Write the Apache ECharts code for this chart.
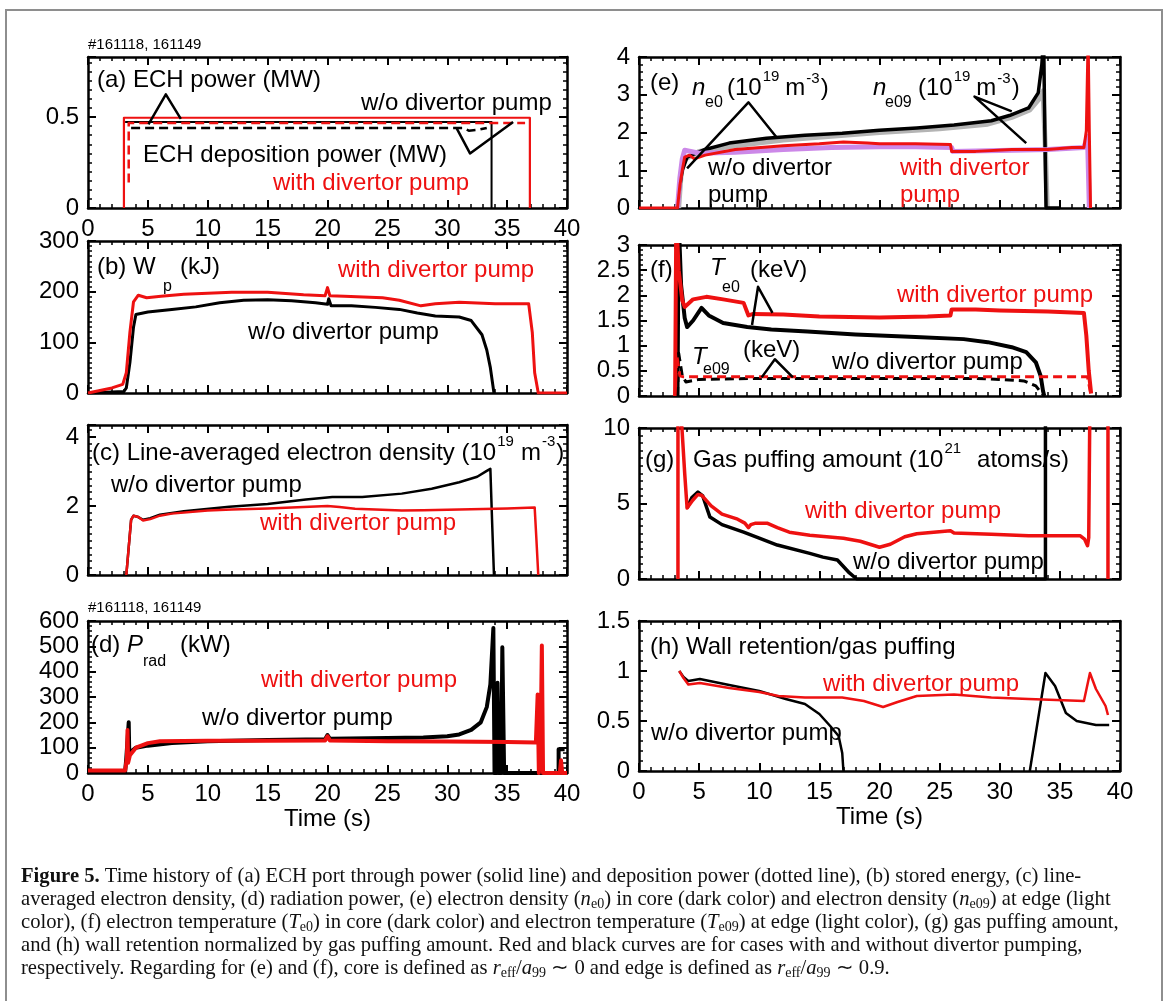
<!DOCTYPE html>
<html><head><meta charset="utf-8">
<script src="https://cdn.jsdelivr.net/npm/echarts@6/dist/echarts.min.js"></script>
<style>html,body{margin:0;padding:0;background:#fff}#c{width:1165px;height:1001px}</style>
</head><body><div id="c"></div>
<script>
// ---------------- DATA (time s, value) ----------------
// (a) ECH power (MW)
const aRedSolid   = [[3.0,0],[3.0,0.496],[36.9,0.496],[36.9,0]];
const aBlackSolid = [[3.1,0.473],[33.7,0.473],[33.7,0]];
const aRedDashed  = [[3.4,0.14],[3.4,0.467],[36.5,0.467]];
const aBlackDashed= [[3.6,0.44],[31.3,0.44],[31.8,0.425],[32.6,0.43],[33.3,0.44]];
const aPointer1   = [[5.05,0.46],[6.5,0.625],[7.75,0.49]];
const aPointer2   = [[30.8,0.436],[31.9,0.30],[35.5,0.473]];
// (b) Wp (kJ)
const bRed = [[0,0],[1,5],[2,10],[2.9,17],[3.2,40],[3.5,120],[3.8,180],[4.2,193],[4.9,188],[6.1,191],[8,195],[10,197],[12,199],[15,199],[18,194],[19.8,192],[20.0,208],[20.2,192],[21.4,191],[24.6,188],[26,183],[27.8,172],[29,176],[31,179],[34,176],[36.8,176],[37.1,120],[37.3,40],[37.6,0],[40,0]];
const bBlack = [[0,0],[3.0,3],[3.2,10],[3.5,60],[3.8,130],[4.0,155],[5,160],[7,165],[9,170],[11,178],[13,183],[15,184],[17,182],[19,178],[20,175],[20.1,186],[20.3,172],[22,172],[24,169],[26,165],[27.5,158],[29,152],[31,150],[32,143],[32.9,115],[33.3,85],[33.6,50],[33.9,0]];
// (c) line-averaged density
const cBlack = [[3.2,0],[3.4,0.8],[3.6,1.6],[3.8,1.72],[4.2,1.68],[4.6,1.6],[5.2,1.65],[6,1.75],[8,1.85],[11.8,1.98],[15,2.06],[18.2,2.19],[20.4,2.26],[22.9,2.26],[26.2,2.36],[28.7,2.5],[31,2.69],[32.5,2.85],[33.3,3.02],[33.6,3.08],[33.75,1.5],[33.9,0]];
const cRed = [[3.2,0],[3.4,0.8],[3.6,1.6],[3.8,1.72],[4.2,1.68],[4.6,1.58],[5.2,1.62],[6,1.72],[7,1.78],[10,1.87],[12,1.9],[15,1.93],[18,1.97],[20,2.0],[21,1.97],[22.3,1.92],[24,1.9],[26.2,1.87],[28,1.88],[31,1.9],[35,1.93],[37.3,1.96],[37.45,1.0],[37.6,0]];
// (d) Prad (kW)
const dBlack = [[0,5],[3.1,5],[3.2,60],[3.4,200],[3.45,70],[3.6,85],[4,100],[5,108],[7,118],[10,125],[15,130],[19.8,133],[20,150],[20.2,135],[25,138],[28,140],[30,145],[31,152],[32,170],[32.8,200],[33.3,260],[33.6,350],[33.85,572],[33.95,0],[34.15,0],[34.2,356],[34.3,0],[34.5,0],[34.6,496],[34.75,0],[39.3,0],[39.3,94],[39.8,94]];
const dRed = [[0,10],[3.1,10],[3.25,60],[3.3,170],[3.35,40],[3.5,70],[4,100],[5,118],[6,125],[10,127],[15,127],[19.8,128],[20,145],[20.2,128],[25,125],[30,124],[35,122],[37.4,120],[37.55,310],[37.65,0],[37.8,120],[37.9,503],[38.0,0],[39.4,0],[39.5,50],[39.6,0],[40,0]];
// (e) ne0 / ne09
const eGrey   = [[3.3,0],[3.5,0.9],[3.8,1.3],[4.5,1.4],[5,1.5],[8,1.65],[12,1.8],[16,1.9],[20,2.0],[25,2.1],[29,2.22],[31,2.4],[32.5,2.6],[33.3,2.9],[33.6,3.1],[33.8,1.5],[33.95,0]];
const eBlack  = [[3.2,0],[3.4,0.6],[3.6,1.0],[4.0,1.35],[4.5,1.42],[5.5,1.55],[7.5,1.72],[10.6,1.85],[13.8,1.93],[16.9,1.98],[20,2.06],[23.1,2.12],[26.2,2.2],[29.3,2.31],[30.8,2.45],[32.4,2.65],[33.2,3.05],[33.5,3.8],[33.65,4.5],[33.75,2],[33.85,0],[35,0]];
const eViolet = [[3.2,0],[3.4,0.8],[3.6,1.3],[3.8,1.53],[4.3,1.5],[5,1.45],[8,1.48],[12,1.55],[16,1.6],[20,1.62],[23,1.62],[26,1.6],[26.1,1.5],[30,1.52],[34,1.55],[37,1.6],[37.3,1.9],[37.45,0]];
const eRed    = [[0,0],[3.2,0],[3.4,0.6],[3.6,1.0],[3.8,1.35],[4.2,1.4],[4.6,1.3],[5.5,1.4],[8,1.55],[12,1.65],[15,1.7],[17,1.75],[19,1.72],[20,1.7],[23,1.7],[25.9,1.68],[26.0,1.5],[28,1.5],[31,1.55],[34,1.55],[36,1.6],[37,1.6],[37.2,2.05],[37.35,4.5],[37.45,2],[37.55,0]];
const ePointer1 = [[4.0,1.05],[9.1,2.8],[11.5,1.85]];
const ePointer2 = [[31.0,2.56],[27.9,2.95],[32.2,1.72]];
// (f) Te0 / Te09 (keV)
const fRed  = [[3.0,0],[3.1,3.5],[3.3,2.5],[3.6,1.9],[3.8,1.77],[4.5,1.92],[5.6,1.97],[7,1.92],[8.7,1.85],[9.1,1.6],[9.5,1.63],[12,1.62],[15,1.58],[20,1.56],[24,1.58],[25.9,1.6],[26.0,1.72],[28,1.72],[30,1.7],[34,1.68],[37.0,1.65],[37.2,1.2],[37.4,0.5],[37.6,0.05]];
const fBlack= [[3.2,0],[3.3,3.5],[3.5,2.2],[3.8,1.55],[4.0,1.37],[4.5,1.5],[5.2,1.75],[5.8,1.6],[7,1.45],[9,1.37],[11,1.32],[14,1.28],[18,1.22],[20,1.2],[23,1.17],[27,1.13],[29,1.07],[31,0.97],[32.2,0.87],[33.0,0.67],[33.4,0.4],[33.6,0.1],[33.7,0]];
const fRedEdge   = [[3.0,0],[3.15,0.8],[3.4,0.4],[3.7,0.38],[37.3,0.38],[37.6,0]];
const fBlackEdge = [[3.2,0],[3.3,0.85],[3.6,0.4],[3.9,0.28],[5,0.33],[10,0.35],[28,0.35],[30,0.33],[32,0.3],[33,0.2],[33.5,0.05],[33.7,0]];
const fPointer1 = [[9.4,1.41],[9.9,2.17],[11.1,1.65]];
const fPointer2 = [[10.2,0.37],[11.3,0.73],[12.8,0.37]];
// (g) gas puffing (1e21 atoms/s)
const gRed = [[3.24,0],[3.24,12],[3.57,10],[3.8,7],[4.0,4.7],[4.45,5.2],[4.9,5.6],[5.2,5.55],[6.0,4.84],[6.9,4.3],[8.2,3.96],[8.8,3.7],[9.1,3.4],[9.3,3.6],[9.7,3.7],[10.65,3.7],[11.5,3.4],[12.5,3.1],[14.2,2.9],[17.0,2.7],[18.4,2.5],[20,2.1],[20.9,2.3],[22.1,2.8],[23.1,3.0],[25.9,3.2],[26.2,3.05],[29.3,2.97],[32.4,2.86],[36.7,2.86],[37.05,2.64],[37.3,2.2],[37.4,2.75],[37.5,12],[39.0,12],[39.0,0]];
const gBlack = [[4.0,4.7],[4.4,5.4],[4.9,5.75],[5.3,5.5],[5.9,4.1],[6.9,3.6],[8.7,3.1],[10.0,2.7],[11.5,2.25],[14.2,1.7],[15.3,1.45],[16.5,1.26],[17.5,0.4],[18.1,0],[33.8,0],[33.8,12]];
// (h) wall retention / gas puffing
const hRed = [[3.35,1.0],[3.7,0.93],[4.1,0.865],[5.06,0.88],[7.5,0.83],[10,0.79],[11.6,0.75],[13.8,0.735],[16.9,0.735],[18.7,0.70],[20.3,0.64],[21.5,0.69],[23.1,0.75],[26.2,0.765],[29.3,0.735],[32.4,0.72],[37.0,0.70],[37.5,0.98],[38.0,0.82],[38.8,0.65],[39.0,0.56]];
const hBlack = [[3.35,1.0],[3.7,0.94],[4.1,0.90],[5.06,0.92],[7.5,0.86],[10.0,0.80],[12.2,0.72],[13.8,0.67],[15.0,0.57],[15.9,0.45],[16.6,0.35],[16.9,0.18],[17.0,0]];
const hBlackLate = [[32.5,0],[33.8,0.98],[33.9,0.99],[34.6,0.85],[35.5,0.58],[36.4,0.5],[38.0,0.46],[39.1,0.46]];

// axis settings per panel
const xTicks = {min:0, max:40, interval:5};
const yRanges = [
  {max:0.83, interval:0.5, split:10},
  {max:300, interval:100, split:10},
  {max:4.35, interval:2, split:10},
  {max:600, interval:100, split:5},
  {max:4, interval:1, split:5},
  {max:3, interval:0.5, split:5},
  {max:10, interval:5, split:10},
  {max:1.5, interval:0.5, split:5}
];

// ---------------- LAYOUT ----------------
const SANS = '"Liberation Sans", Arial, Helvetica, sans-serif';
const SERIF = '"Liberation Serif", "Times New Roman", serif';
const RED = '#ee1111';
const boxes = [
  {left:88, top:57, width:479, height:151, xlab:true},
  {left:88, top:241, width:479, height:152},
  {left:88, top:425, width:479, height:150},
  {left:88, top:621, width:479, height:152, xlab:true, xname:'Time (s)'},
  {left:639, top:57, width:481, height:151},
  {left:639, top:245, width:481, height:151},
  {left:639, top:428, width:481, height:151},
  {left:639, top:621, width:481, height:150, xlab:true, xname:'Time (s)'}
];

const grids = [], xAxes = [], yAxes = [];
boxes.forEach((b, i) => {
  grids.push({left:b.left, top:b.top, width:b.width, height:b.height, containLabel:false});
  const common = {
    axisLine:{show:true, onZero:false, lineStyle:{color:'#000', width:2.5}},
    axisTick:{show:true, inside:true, length:8, lineStyle:{color:'#000', width:2}},
    minorTick:{show:true, length:4, lineStyle:{color:'#000', width:1.5}},
    splitLine:{show:false}, minorSplitLine:{show:false}
  };
  ['bottom','top'].forEach(pos => {
    xAxes.push(Object.assign({}, common, {
      type:'value', gridIndex:i, position:pos, min:xTicks.min, max:xTicks.max, interval:xTicks.interval,
      minorTick:Object.assign({}, common.minorTick, {splitNumber:5}),
      axisLabel:{show: pos==='bottom' && !!b.xlab, fontSize:24, fontFamily:SANS, color:'#000', margin:9},
      name: pos==='bottom' && b.xname ? b.xname : '', nameLocation:'middle', nameGap:33,
      nameTextStyle:{fontSize:24, fontFamily:SANS, color:'#000'}
    }));
  });
  const yr = yRanges[i];
  ['left','right'].forEach(pos => {
    yAxes.push(Object.assign({}, common, {
      type:'value', gridIndex:i, position:pos, min:0, max:yr.max, interval:yr.interval,
      minorTick:Object.assign({}, common.minorTick, {splitNumber:yr.split}),
      axisLabel:{show: pos==='left', fontSize:24, fontFamily:SANS, color:'#000', margin:9,
        formatter: v => (Math.abs(v/yr.interval - Math.round(v/yr.interval)) < 1e-6) ? String(+v.toFixed(3)) : ''}
    }));
  });
});

function S(pi, data, color, width, dashed, z) {
  return {type:'line', xAxisIndex:2*pi, yAxisIndex:2*pi, data:data, symbol:'none', showSymbol:false,
    animation:false, silent:true, clip:true, z:z||2,
    lineStyle:{color:color, width:width, type: dashed ? [9,5] : 'solid', join:'round'}};
}
const series = [
  S(0,aBlackSolid,'#000',2), S(0,aRedSolid,RED,2.2), S(0,aBlackDashed,'#000',2.5,true), S(0,aRedDashed,RED,2.5,true),
  S(0,aPointer1,'#000',2.5), S(0,aPointer2,'#000',2.5),
  S(1,bBlack,'#000',3), S(1,bRed,RED,3),
  S(2,cBlack,'#000',2.5), S(2,cRed,RED,2.5),
  S(3,dBlack,'#000',4), S(3,dRed,RED,4),
  S(4,eGrey,'#b4b4b4',5), S(4,eBlack,'#000',3.5), S(4,eViolet,'#cc88e8',5), S(4,eRed,RED,3),
  S(4,ePointer1,'#000',2.5), S(4,ePointer2,'#000',2.5),
  S(5,fBlack,'#000',4), S(5,fRed,RED,4), S(5,fBlackEdge,'#000',3,true), S(5,fRedEdge,RED,3,true),
  S(5,fPointer1,'#000',2.5), S(5,fPointer2,'#000',2.5),
  S(6,gBlack,'#000',3.5), S(6,gRed,RED,3.5),
  S(7,hBlack,'#000',2.5), S(7,hBlackLate,'#000',2.5), S(7,hRed,RED,2.5)
];

// ---------------- TEXT ----------------
const mctx = document.createElement('canvas').getContext('2d');
function tw(font, s){ mctx.font = font; return mctx.measureText(s).width; }
function fontOf(size, italic, bold, fam){ return (italic?'italic ':'') + (bold?'bold ':'') + size + 'px ' + (fam||SANS); }
function T(x, y, text, color, size, italic) {
  return {type:'text', x:x, y:y, silent:true, z:100,
    style:{text:text, fill:color||'#000', font:fontOf(size||24, italic), align:'left', verticalAlign:'middle',
      textAlign:'left', textVerticalAlign:'middle'}};
}
function comp(x, y, pieces, color) {
  const out = []; let cx = x;
  pieces.forEach(p => {
    const size = p.s || 24;
    if (p.x != null) cx = p.x;
    out.push(T(cx, y + (p.dy||0), p.t, color, size, p.i));
    cx += tw(fontOf(size, p.i), p.t) + (p.gap||0);
  });
  return out;
}
let g = [];
g.push({type:'rect', silent:true, z:0, shape:{x:6, y:10, width:1156, height:1010}, style:{fill:'none', stroke:'#8e8e8e', lineWidth:2}});
// (a)
g.push(T(88,45,'#161118, 161149','#000',15));
g.push(T(97,80,'(a) ECH power (MW)'));
g.push(T(361,103,'w/o divertor pump'));
g.push(T(143,155,'ECH deposition power (MW)'));
g.push(T(273,183,'with divertor pump',RED));
// (b)
g = g.concat(comp(97,267,[{t:'(b) W'},{t:'p',s:16,dy:20,x:163},{t:'(kJ)',x:180}]));
g.push(T(338,270,'with divertor pump',RED));
g.push(T(248,332,'w/o divertor pump'));
// (c)
g = g.concat(comp(92,453,[{t:'(c) Line-averaged electron density (10',gap:1},{t:'19',s:15,dy:-11,gap:7},{t:'m',gap:1},{t:'-3',s:15,dy:-11,gap:1},{t:')'}]));
g.push(T(111,485,'w/o divertor pump'));
g.push(T(260,523,'with divertor pump',RED));
// (d)
g.push(T(88,608,'#161118, 161149','#000',15));
g = g.concat(comp(91,645,[{t:'(d) '},{t:'P',i:true},{t:'rad',s:16,dy:17},{t:'(kW)',x:180}]));
g.push(T(261,680,'with divertor pump',RED));
g.push(T(202,718,'w/o divertor pump'));
// (e)
g.push(T(650,83,'(e)'));
g = g.concat(comp(692,88,[{t:'n',i:true},{t:'e0',s:16,dy:15,x:705},{t:'(10',x:727,gap:1},{t:'19',s:15,dy:-11,gap:6},{t:'m',gap:1},{t:'-3',s:15,dy:-9,gap:1},{t:')'}]));
g = g.concat(comp(873,88,[{t:'n',i:true},{t:'e09',s:16,dy:15,x:885},{t:'(10',x:918,gap:1},{t:'19',s:15,dy:-11,gap:6},{t:'m',gap:1},{t:'-3',s:15,dy:-9,gap:1},{t:')'}]));
g.push(T(708,168,'w/o divertor')); g.push(T(708,195,'pump'));
g.push(T(900,168,'with divertor',RED)); g.push(T(900,195,'pump',RED));
// (f)
g.push(T(650,270,'(f)'));
g = g.concat(comp(710,268,[{t:'T',i:true},{t:'e0',s:16,x:722,dy:20},{t:'(keV)',x:750,dy:2}]));
g = g.concat(comp(692,357,[{t:'T',i:true},{t:'e09',s:16,dy:13,x:703},{t:'(keV)',x:743,dy:-7}]));
g.push(T(897,295,'with divertor pump',RED));
g.push(T(832,362,'w/o divertor pump'));
// (g)
g = g.concat(comp(645,460,[{t:'(g)'},{t:'Gas puffing amount (10',x:693,gap:1},{t:'21',s:15,dy:-11,gap:16},{t:'atoms/s)'}]));
g.push(T(805,511,'with divertor pump',RED));
g.push(T(853,562,'w/o divertor pump'));
// (h)
g.push(T(650,647,'(h) Wall retention/gas puffing'));
g.push(T(823,684,'with divertor pump',RED));
g.push(T(651,733,'w/o divertor pump'));

// caption
const capPlain4 = 'and (h) wall retention normalized by gas puffing amount. Red and black curves are for cases with and without divertor pumping,';
let capSize = 20 * 1062 / tw('20px ' + SERIF, capPlain4);
capSize = Math.max(16, Math.min(21, capSize));
const capLines = [
  '{b|Figure 5.} Time history of (a) ECH port through power (solid line) and deposition power (dotted line), (b) stored energy, (c) line-',
  'averaged electron density, (d) radiation power, (e) electron density ({i|n}{s|e0}) in core (dark color) and electron density ({i|n}{s|e09}) at edge (light',
  'color), (f) electron temperature ({i|T}{s|e0}) in core (dark color) and electron temperature ({i|T}{s|e09}) at edge (light color), (g) gas puffing amount,',
  capPlain4,
  'respectively. Regarding for (e) and (f), core is defined as {i|r}{s|eff}/{i|a}{s|99} \u223C 0 and edge is defined as {i|r}{s|eff}/{i|a}{s|99} \u223C 0.9.'
];
const capY = [877, 900, 923, 946, 969];
capLines.forEach((line, k) => {
  g.push({type:'text', x:21, y:capY[k], silent:true, z:100,
    style:{text:line, fill:'#111', fontFamily:SERIF, fontSize:capSize, lineHeight:23,
      align:'left', verticalAlign:'middle', textAlign:'left', textVerticalAlign:'middle',
      rich:{
        b:{fontFamily:SERIF, fontSize:capSize, fontWeight:'bold', lineHeight:23, verticalAlign:'middle'},
        i:{fontFamily:SERIF, fontSize:capSize, fontStyle:'italic', lineHeight:23, verticalAlign:'middle'},
        s:{fontFamily:SERIF, fontSize:capSize*0.68, lineHeight:capSize*0.68, verticalAlign:'bottom'}
      }}});
});

const chart = echarts.init(document.getElementById('c'), null, {renderer:'canvas'});
chart.setOption({
  animation:false,
  backgroundColor:'#fff',
  textStyle:{fontFamily:SANS},
  grid:grids, xAxis:xAxes, yAxis:yAxes, series:series, graphic:g
});
</script></body></html>
